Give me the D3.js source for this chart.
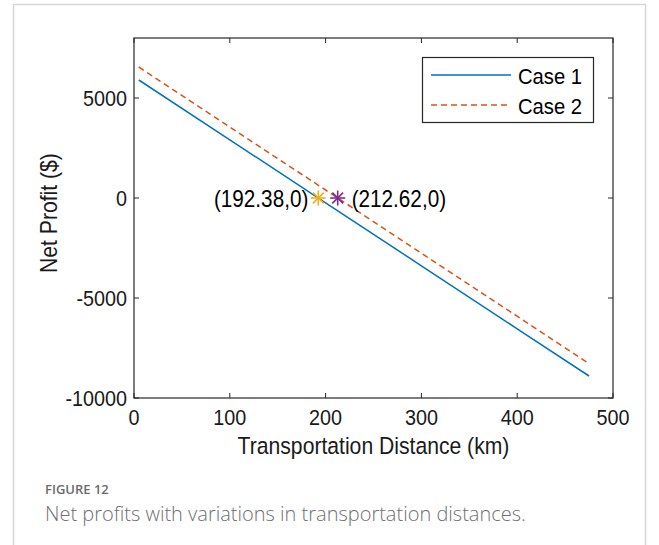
<!DOCTYPE html>
<html>
<head>
<meta charset="utf-8">
<script src="https://cdn.jsdelivr.net/npm/d3@7"></script>
<style>
  body { margin: 0; background: #fff; }
  svg { display: block; }
</style>
</head>
<body>
<svg id="chart" width="659" height="545"></svg>
<script>
// values
var distances = [5, 100, 200, 300, 400, 475];
var case1 = [5900, 2910, -240, -3390, -6540, -8900];
var case2 = [6550, 3550, 400, -2760, -5910, -8280];
var zeroPoints = [
  { x: 192.38, y: 0, label: "(192.38,0)", color: "#EDB120", side: "left" },
  { x: 212.62, y: 0, label: "(212.62,0)", color: "#7E2F8E", side: "right" }
];
var xTicks = [0, 100, 200, 300, 400, 500];
var yTicks = [-10000, -5000, 0, 5000];

var svg = d3.select("#chart");
var font = "Liberation Sans, Arial, sans-serif";
var squeeze = 0.9;

// matlab's helvetica looks a bit narrower than liberation sans
function label(parent, x, y, txt, size, anchor, rot) {
  return parent.append("text")
    .attr("transform", "translate(" + x + "," + y + ")" + (rot ? " rotate(" + rot + ")" : "") + " scale(" + squeeze + ",1)")
    .attr("text-anchor", anchor || "start")
    .attr("font-family", font)
    .attr("font-size", size)
    .attr("fill", "#1a1a1a")
    .text(txt);
}

// outer card border
svg.append("path")
  .attr("d", "M13.5,545 V4.5 H645.5 V545")
  .attr("fill", "none")
  .attr("stroke", "#d6d6d6")
  .attr("stroke-width", 1.5);

var pLeft = 134, pRight = 613, pTop = 38, pBottom = 398;

var x = d3.scaleLinear().domain([0, 500]).range([pLeft, pRight]);
var y = d3.scaleLinear().domain([-10000, 8000]).range([pBottom, pTop]);

var tickLen = 5;

// ticks (inward, all four sides)
var g = svg.append("g").attr("stroke", "#262626").attr("stroke-width", 1);
xTicks.forEach(function(t) {
  g.append("line").attr("x1", x(t)).attr("x2", x(t)).attr("y1", pBottom).attr("y2", pBottom - tickLen);
  g.append("line").attr("x1", x(t)).attr("x2", x(t)).attr("y1", pTop).attr("y2", pTop + tickLen);
});
yTicks.forEach(function(t) {
  g.append("line").attr("x1", pLeft).attr("x2", pLeft + tickLen).attr("y1", y(t)).attr("y2", y(t));
  g.append("line").attr("x1", pRight).attr("x2", pRight - tickLen).attr("y1", y(t)).attr("y2", y(t));
});

// series
var line = d3.line()
  .x(function(d) { return x(d[0]); })
  .y(function(d) { return y(d[1]); });

svg.append("path")
  .datum(d3.zip(distances, case1))
  .attr("d", line)
  .attr("fill", "none")
  .attr("stroke", "#0072BD")
  .attr("stroke-width", 1.5);

svg.append("path")
  .datum(d3.zip(distances, case2))
  .attr("d", line)
  .attr("fill", "none")
  .attr("stroke", "#D95319")
  .attr("stroke-width", 1.5)
  .attr("stroke-dasharray", "6,4");

// asterisk markers
zeroPoints.forEach(function(p) {
  var cx = x(p.x), cy = y(p.y), r = 7.5;
  var m = svg.append("g").attr("stroke", p.color).attr("stroke-width", 1.6);
  m.append("line").attr("x1", cx - r).attr("x2", cx + r).attr("y1", cy).attr("y2", cy);
  m.append("line").attr("x1", cx).attr("x2", cx).attr("y1", cy - r).attr("y2", cy + r);
  var d = r * 0.72;
  m.append("line").attr("x1", cx - d).attr("x2", cx + d).attr("y1", cy - d).attr("y2", cy + d);
  m.append("line").attr("x1", cx - d).attr("x2", cx + d).attr("y1", cy + d).attr("y2", cy - d);

  label(svg, p.side === "left" ? cx - 10 : cx + 14, cy + 9, p.label, 23, p.side === "left" ? "end" : "start")
    .attr("fill", "#000");
});

// frame
svg.append("rect")
  .attr("x", pLeft).attr("y", pTop)
  .attr("width", pRight - pLeft).attr("height", pBottom - pTop)
  .attr("fill", "none")
  .attr("stroke", "#262626")
  .attr("stroke-width", 1.2);

// tick labels
xTicks.forEach(function(t) {
  label(svg, x(t), pBottom + 27, t, 22, "middle");
});
yTicks.forEach(function(t) {
  label(svg, pLeft - 7, y(t) + 8, t, 22, "end");
});

// axis titles
label(svg, (pLeft + pRight) / 2, 454, "Transportation Distance (km)", 23.5, "middle");
label(svg, 57, 213, "Net Profit ($)", 23.5, "middle", -90);

// legend
var lg = svg.append("g");
lg.append("rect")
  .attr("x", 422.5).attr("y", 57.5)
  .attr("width", 171).attr("height", 65)
  .attr("fill", "#fff")
  .attr("stroke", "#262626")
  .attr("stroke-width", 1.2);
[["Case 1", "#0072BD", null, 75], ["Case 2", "#D95319", "6,4", 105]].forEach(function(e) {
  lg.append("line")
    .attr("x1", 431).attr("x2", 511)
    .attr("y1", e[3]).attr("y2", e[3])
    .attr("stroke", e[1])
    .attr("stroke-width", 1.5)
    .attr("stroke-dasharray", e[2]);
  label(lg, 518, e[3] + 9, e[0], 22.5).attr("fill", "#000");
});

// caption
svg.append("text")
  .attr("x", 45).attr("y", 494)
  .attr("font-family", "Open Sans, sans-serif")
  .attr("font-size", 13)
  .attr("font-weight", 600)
  .attr("fill", "#6b6b6b")
  .text("FIGURE 12");

svg.append("text")
  .attr("x", 45).attr("y", 521)
  .attr("font-family", "Open Sans, sans-serif")
  .attr("font-size", 20)
  .attr("font-weight", 300)
  .attr("fill", "#707070")
  .text("Net profits with variations in transportation distances.");
</script>
</body>
</html>
